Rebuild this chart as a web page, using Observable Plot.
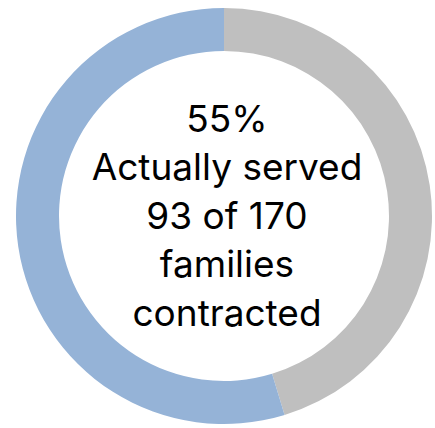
<!DOCTYPE html>
<html>
<head>
<meta charset="utf-8">
<script src="https://cdn.jsdelivr.net/npm/d3@7"></script>
<script src="https://cdn.jsdelivr.net/npm/@observablehq/plot@0.6"></script>
<style>
  html, body { margin: 0; padding: 0; background: #fff; }
  #chart { width: 435px; height: 428px; }
</style>
</head>
<body>
<div id="chart"></div>
<script>
// Data
const categories = ["Not served", "Actually served"];
const families = [77, 93];          // 93 of 170 families contracted
const sliceColors = ["#BFBFBF", "#95B3D7"];
const centerLines = ["55%", "Actually served", "93 of 170", "families", "contracted"];

const slices = categories.map((c, i) => ({category: c, value: families[i]}));

const W = 435, H = 428;
const cx = 224, cy = 216, R = 208, innerRatio = 165 / 208;
const fontSize = 37;

// Custom mark drawing the donut slices using Plot's x/y scales
function donut(index, scales) {
  const x = scales.x, y = scales.y;
  const x0 = x(0), y0 = y(0);
  const rOuter = x(1) - x0;
  const rInner = x(innerRatio) - x0;
  const pie = d3.pie().sort(null).value(d => d.value)(slices);
  const arc = d3.arc().innerRadius(rInner).outerRadius(rOuter);
  const color = scales.color;
  const g = d3.create("svg:g").attr("transform", `translate(${x0},${y0})`);
  g.selectAll("path")
    .data(pie)
    .join("path")
    .attr("d", arc)
    .attr("fill", d => color(d.data.category));
  return g.node();
}

const plot = Plot.plot({
  width: W,
  height: H,
  margin: 0,
  x: {domain: [-cx / R, (W - cx) / R], axis: null},
  y: {domain: [-(H - cy) / R, cy / R], axis: null},
  color: {domain: categories, range: sliceColors},
  style: {background: "#fff", fontFamily: "Inter, 'Liberation Sans', sans-serif"},
  marks: [
    donut,
    Plot.text([centerLines.join("\n")], {
      x: () => 0.012,
      y: () => (cy - 97) / R,
      text: d => d,
      lineAnchor: "top",
      lineHeight: 48.5 / fontSize,
      fontSize: fontSize,
      fill: "#000",
      textAnchor: "middle"
    })
  ]
});

document.getElementById("chart").appendChild(plot);
</script>
</body>
</html>
